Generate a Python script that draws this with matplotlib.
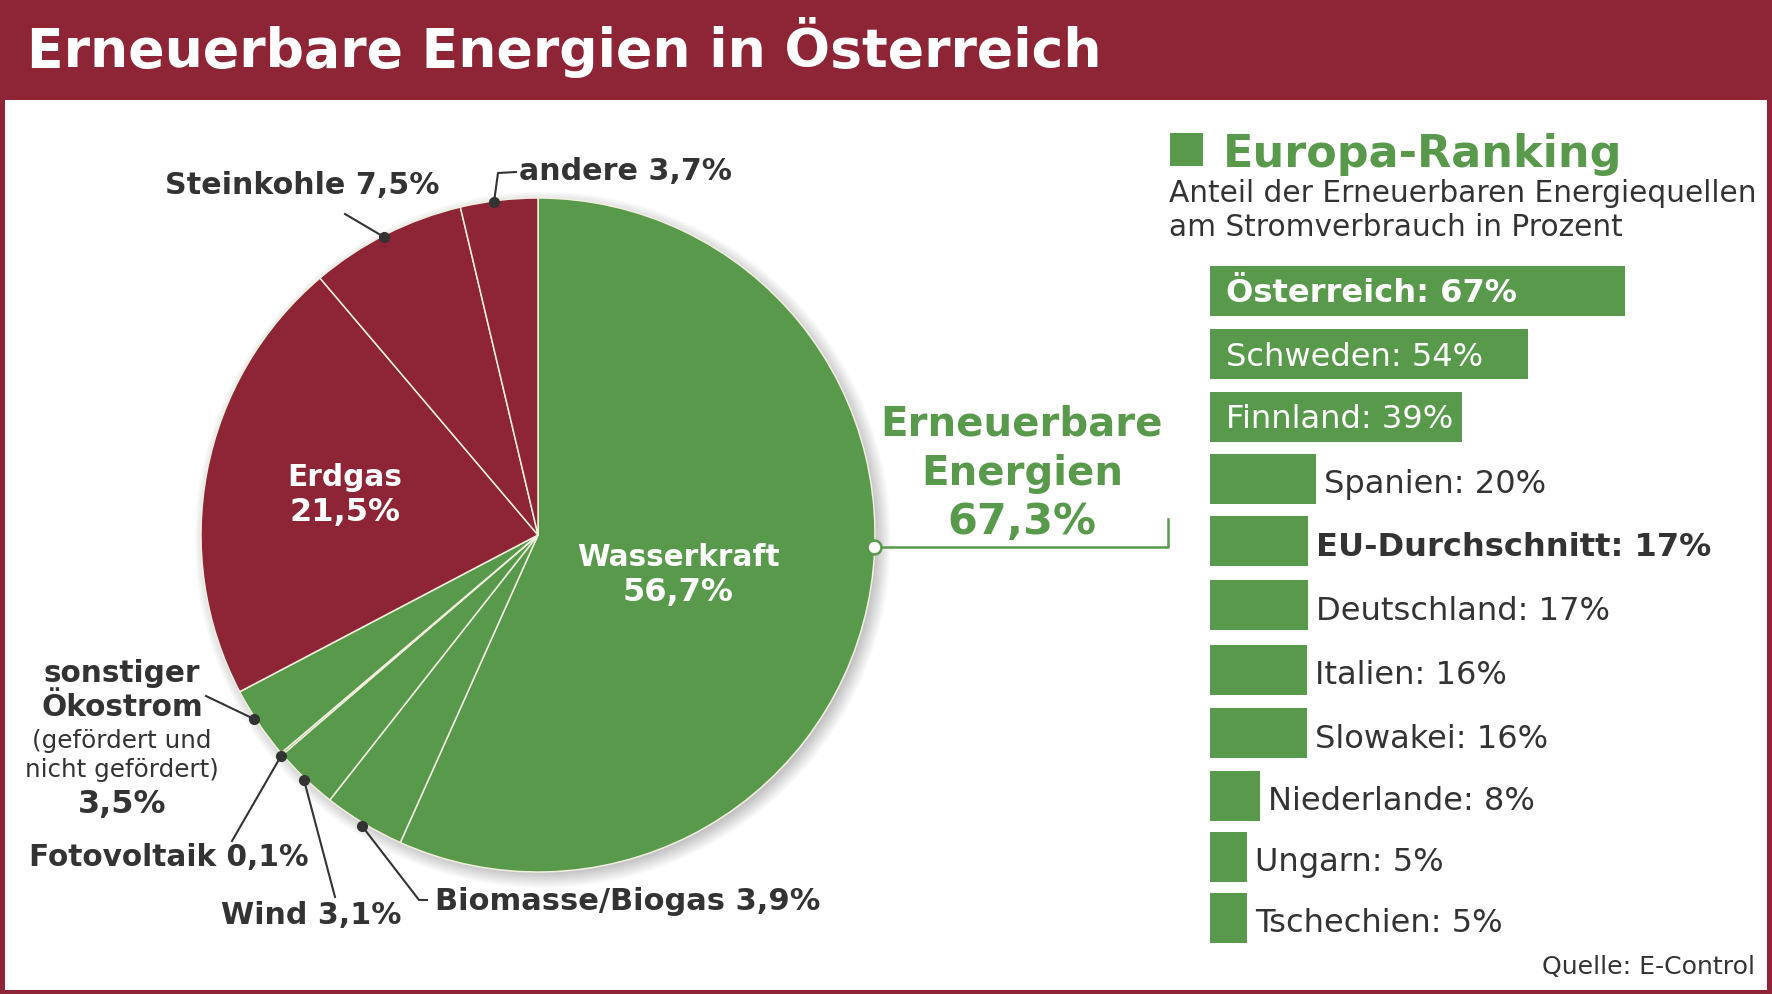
import matplotlib
matplotlib.use('Agg')
import matplotlib.pyplot as plt
from matplotlib.patches import Circle, Rectangle

RED = '#8e2536'
GREEN = '#59994b'
DARK = '#333333'

# pie
pie_labels = ['Wasserkraft', 'Biomasse/Biogas', 'Wind', 'Fotovoltaik', 'sonstiger Ökostrom',
              'Erdgas', 'Steinkohle', 'andere']
pie_values = [56.7, 3.9, 3.1, 0.1, 3.5, 21.5, 7.5, 3.7]
pie_colors = [GREEN] * 5 + [RED] * 3

# ranking, text says one thing, bar lengths as drawn in the picture
countries = ['Österreich: 67%', 'Schweden: 54%', 'Finnland: 39%', 'Spanien: 20%', 'EU-Durchschnitt: 17%',
             'Deutschland: 17%', 'Italien: 16%', 'Slowakei: 16%', 'Niederlande: 8%', 'Ungarn: 5%', 'Tschechien: 5%']
bar_lengths = [67, 51.3, 40.7, 17.2, 15.9, 15.9, 15.7, 15.7, 8, 6, 6]

W, H = 1772, 995
fig = plt.figure(figsize=(W / 100, H / 100), dpi=100, facecolor='white')


def ax_px(x0, y0, x1, y1, **kw):
    return fig.add_axes([x0 / W, 1 - y1 / H, (x1 - x0) / W, (y1 - y0) / H], **kw)


# pie axes
cx, cy, r = 538, 536, 337
ax = ax_px(cx - r, cy - r, cx + r, cy + r)
for i in range(12):
    ax.add_patch(Circle((0.014, -0.014), 0.985 + 0.004 * (12 - i), color='black', alpha=0.02, lw=0, clip_on=False))
ax.pie(pie_values, colors=pie_colors, startangle=90, counterclock=False, radius=1, frame=False,
       wedgeprops={'edgecolor': '#f3efe0', 'linewidth': 1.1, 'clip_on': False})
ax.set_xlim(-1, 1)
ax.set_ylim(-1, 1)
ax.set_aspect('equal')
ax.axis('off')

# bars, rows are not evenly spaced in the original so y is in picture pixels
bx0 = 1210
unit = 6.19
row_y = [292, 355, 418, 480, 542, 606, 671, 734, 797, 858, 919]
bx = ax_px(bx0, 0, W, H)
bx.patch.set_alpha(0)
bx.barh(row_y, bar_lengths, height=50, color=GREEN, edgecolor='none')
bx.set_xlim(0, (W - bx0) / unit)
bx.set_ylim(H, 0)
bx.axis('off')
for y, name, val in zip(row_y, countries, bar_lengths):
    inside = val > 30
    bx.annotate(name, (val if not inside else 0, y), xytext=(8 if not inside else 16, -2 if inside else -5),
                textcoords='offset pixels', va='center', ha='left', fontsize=23.1,
                color='white' if inside else DARK,
                fontweight='bold' if name.startswith(('Österreich', 'EU-')) else 'normal')

# overlay in pixels of the picture
ov = ax_px(0, 0, W, H)
ov.set_xlim(0, W)
ov.set_ylim(H, 0)
ov.axis('off')
ov.patch.set_alpha(0)
ov.add_patch(Rectangle((0, 0), W, 98, color=RED, lw=0))
ov.add_patch(Rectangle((2.5, 98), W - 5, H - 100.5, fill=False, edgecolor=RED, lw=3.6))
ov.text(27, 47, 'Erneuerbare Energien in Österreich', color='white', fontsize=38.6, fontweight='bold',
        va='center', ha='left')


def lab(x, y, s, size=21.7, weight='bold', color=DARK, ha='center'):
    ov.text(x, y + 2, s, fontsize=size, fontweight=weight, color=color, ha=ha, va='center')


lab(302, 183, 'Steinkohle 7,5%')
lab(519, 169, 'andere 3,7%', ha='left')
lab(345, 476, 'Erdgas', size=21.3, color='white')
lab(345, 511, '21,5%', size=23, color='white')
lab(678, 555, 'Wasserkraft', size=21.3, color='white')
lab(678, 591, '56,7%', size=23, color='white')
lab(122, 671, 'sonstiger', size=21.3)
lab(122, 706, 'Ökostrom', size=21.3)
lab(122, 739, '(gefördert und', size=17.7, weight='normal')
lab(122, 768, 'nicht gefördert)', size=17.7, weight='normal')
lab(122, 802, '3,5%', size=23)
lab(169, 856, 'Fotovoltaik 0,1%', size=21.3)
lab(311, 913, 'Wind 3,1%')
lab(435, 900, 'Biomasse/Biogas 3,9%', size=22, ha='left')

# leader lines with dots
leaders = [
    ([345, 384], [215, 238]),
    ([516, 498, 494], [173, 174, 203]),
    ([206, 254], [697, 720]),
    ([232, 281], [842, 757]),
    ([335, 304], [898, 781]),
    ([427, 419, 362], [901, 901, 827]),
]
for xs, ys in leaders:
    ov.plot(xs, ys, color=DARK, lw=1.5)
    ov.plot(xs[-1], ys[-1], 'o', color=DARK, ms=7)

# Erneuerbare callout
lab(1022, 423, 'Erneuerbare', size=29, color=GREEN)
lab(1022, 472, 'Energien', size=29, color=GREEN)
lab(1022, 520, '67,3%', size=31, color=GREEN)
ov.plot([874, 1168, 1168], [548, 548, 520], color=GREEN, lw=1.8)
ov.plot(874, 548, 'o', mfc='white', mec=GREEN, mew=1.8, ms=10)

# ranking heading
ov.add_patch(Rectangle((1170, 134), 33, 33, color=GREEN, lw=0))
lab(1223, 152, 'Europa-Ranking', size=32, color=GREEN, ha='left')
lab(1169, 191, 'Anteil der Erneuerbaren Energiequellen', size=21.3, weight='normal', ha='left')
lab(1169, 225, 'am Stromverbrauch in Prozent', size=21.3, weight='normal', ha='left')
lab(1755, 965, 'Quelle: E-Control', size=18.1, weight='normal', ha='right')

fig.savefig('out.png', dpi=100)
